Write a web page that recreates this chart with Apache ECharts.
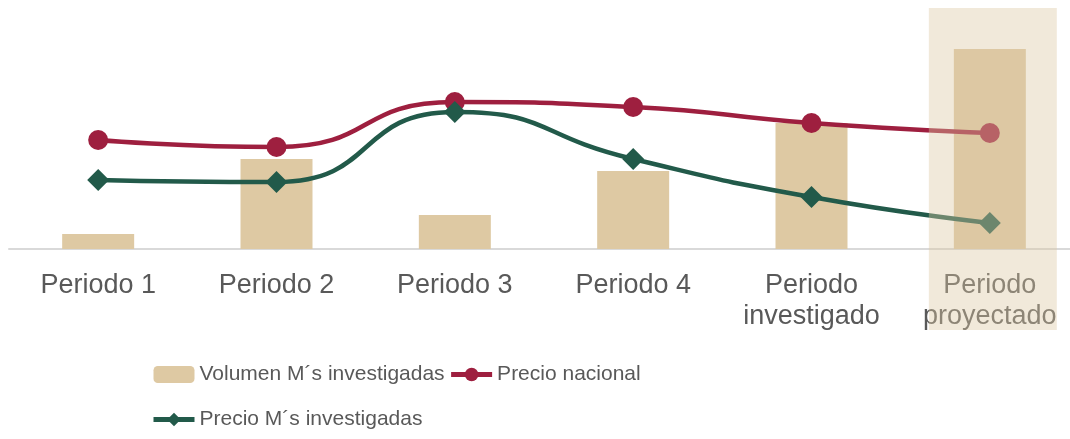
<!DOCTYPE html>
<html><head><meta charset="utf-8">
<script src="https://cdn.jsdelivr.net/npm/echarts@6/dist/echarts.min.js"></script>
<style>html,body{margin:0;padding:0;background:#fff}#c{width:1070px;height:439px}</style>
</head><body><div id="c"></div>
<script>
var categories = ['Periodo 1', 'Periodo 2', 'Periodo 3', 'Periodo 4', 'Periodo\ninvestigado', 'Periodo\nproyectado'];
var volumen = [15, 90, 34, 78, 126, 200];
var precioNacional = [109, 102, 147, 142, 126, 116];
var precioInvestigadas = [69, 67, 137, 90, 52, 26];
var highlightCategory = 'Periodo\nproyectado';

var chart = echarts.init(document.getElementById('c'));
var font = 'Liberation Sans, Arial, sans-serif';
chart.setOption({
  animation: false,
  grid: {left: 9, top: 8, width: 1070, height: 241, outerBoundsMode: 'none', containLabel: false},
  xAxis: {
    type: 'category', data: categories,
    axisLine: {lineStyle: {color: '#D9D9D9', width: 2}},
    axisTick: {show: false},
    axisLabel: {color: '#595959', fontSize: 27, fontFamily: font, lineHeight: 31, margin: 21, interval: 0}
  },
  yAxis: {type: 'value', min: 0, max: 241, show: false, splitLine: {show: false}},
  legend: {
    left: 151, top: 354, width: 700, padding: 0,
    itemWidth: 41, itemHeight: 17, itemGap: 4,
    lineStyle: {width: 5},
    textStyle: {color: '#595959', fontSize: 21, fontFamily: font, lineHeight: 41},
    data: ['Volumen M´s investigadas', 'Precio nacional', 'Precio M´s investigadas']
  },
  series: [
    {name: 'Volumen M´s investigadas', type: 'bar', data: volumen, barWidth: 72,
     itemStyle: {color: '#DEC9A3'}},
    {name: 'Precio nacional', type: 'line', data: precioNacional, smooth: 0.55,
     symbol: 'circle', symbolSize: 20,
     lineStyle: {color: '#9E1F3F', width: 4.5}, itemStyle: {color: '#9E1F3F'}},
    {name: 'Precio M´s investigadas', type: 'line', data: precioInvestigadas, smooth: 0.55,
     symbol: 'diamond', symbolSize: 22,
     lineStyle: {color: '#225A4A', width: 4.5}, itemStyle: {color: '#225A4A'}}
  ]
});
var cx = chart.convertToPixel({xAxisIndex: 0}, highlightCategory);
chart.setOption({
  graphic: [{
    type: 'rect', z: 100, silent: true,
    shape: {x: cx - 61, y: 8, width: 128, height: 322},
    style: {fill: 'rgba(221,200,162,0.4)'}
  }]
});
</script></body></html>
